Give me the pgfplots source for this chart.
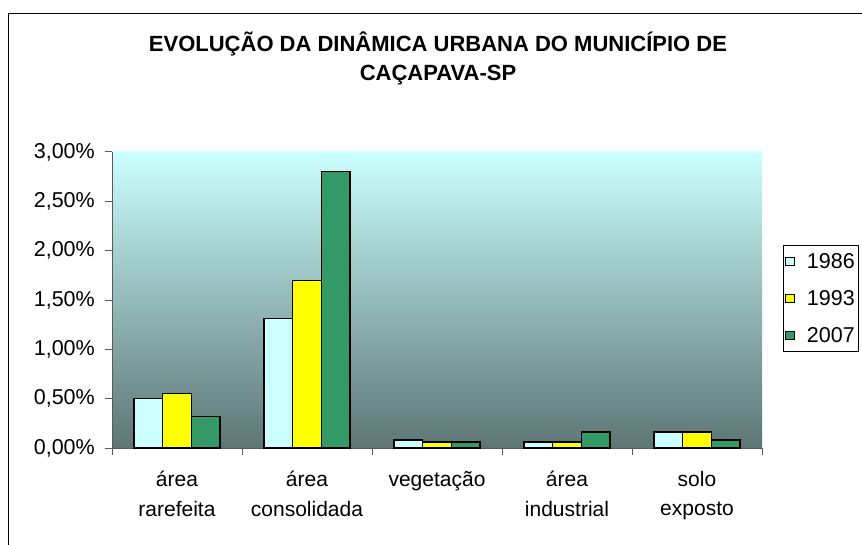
\documentclass[border=0pt]{standalone}
\usepackage{fontspec}
\setmainfont{Liberation Sans}
\usepackage{pgfplots}
\pgfplotsset{compat=1.18}
\definecolor{c86}{RGB}{204,255,255}
\definecolor{c93}{RGB}{255,255,0}
\definecolor{c07}{RGB}{51,153,102}
\definecolor{bgtop}{RGB}{204,255,255}
\definecolor{bgmid}{RGB}{155,196,196}
\definecolor{bgbot}{RGB}{93,117,117}
\definecolor{axgray}{RGB}{90,90,90}
\pgfplotsset{
  sqlegend/.style={legend image code/.code={\draw[##1,line width=1pt] (0pt,-4.3pt) rectangle (8.6pt,4.3pt);}},
}
\begin{document}
\begin{tikzpicture}[x=1pt,y=1pt]
\begin{axis}[
  at={(112pt,96pt)}, anchor=south west,
  width=650pt, height=296pt, scale only axis,
  xmin=-0.5, xmax=4.5, ymin=0, ymax=3,
  axis lines=left,
  axis line style={-, draw=axgray, line width=1pt},
  axis background/.style={shade, top color=bgtop, middle color=bgmid, bottom color=bgbot},
  ybar=0pt, bar width=28.7pt,
  ytick={0,0.5,1,1.5,2,2.5,3},
  yticklabels={{0,00\%},{0,50\%},{1,00\%},{1,50\%},{2,00\%},{2,50\%},{3,00\%}},
  xtick={0,1,2,3,4},
  xticklabels={{área\\rarefeita},{área\\consolidada},{vegetação},{área\\industrial},{solo\\exposto}},
  minor xtick={-0.5,0.5,1.5,2.5,3.5,4.5},
  tick align=outside,
  major tick length=7pt, minor tick length=7pt,
  every tick/.style={draw=axgray, line width=1pt},
  major x tick style={draw=none},
  yticklabel style={font=\fontsize{21.5}{24}\selectfont, inner sep=0pt, xshift=-10pt},
  xticklabel style={font=\fontsize{21}{29.5}\selectfont, align=center, anchor=north, inner sep=0pt, yshift=-16pt},
  legend style={at={(1.0323,0.686)}, anchor=north west, draw=black, line width=0.8pt, fill=white,
    font=\fontsize{21.5}{24}\selectfont, row sep=16.5pt, inner xsep=2pt, inner ysep=6pt,
    /tikz/every odd column/.append style={column sep=10pt}},
  legend cell align=left,
  clip=false,
]
\addplot[fill=c86, draw=black, line width=1.5pt, sqlegend] coordinates {(0,0.50) (1,1.31) (2,0.08) (3,0.06) (4,0.16)};
\addplot[fill=c93, draw=black, line width=1.5pt, sqlegend] coordinates {(0,0.55) (1,1.70) (2,0.06) (3,0.06) (4,0.16)};
\addplot[fill=c07, draw=black, line width=1.5pt, sqlegend] coordinates {(0,0.32) (1,2.80) (2,0.06) (3,0.16) (4,0.08)};
\legend{1986,1993,2007}
\end{axis}
\node[font=\fontsize{22}{29}\selectfont\bfseries, align=center, anchor=base] at (438pt,463pt)
  {EVOLUÇÃO DA DINÂMICA URBANA DO MUNICÍPIO DE\\CAÇAPAVA-SP};
\draw[black, line width=1pt] (8.5pt,-10pt) -- (8.5pt,530pt) -- (880pt,530pt);
\pgfresetboundingbox
\path[use as bounding box] (0pt,0pt) rectangle (862pt,544pt);
\end{tikzpicture}
\end{document}
